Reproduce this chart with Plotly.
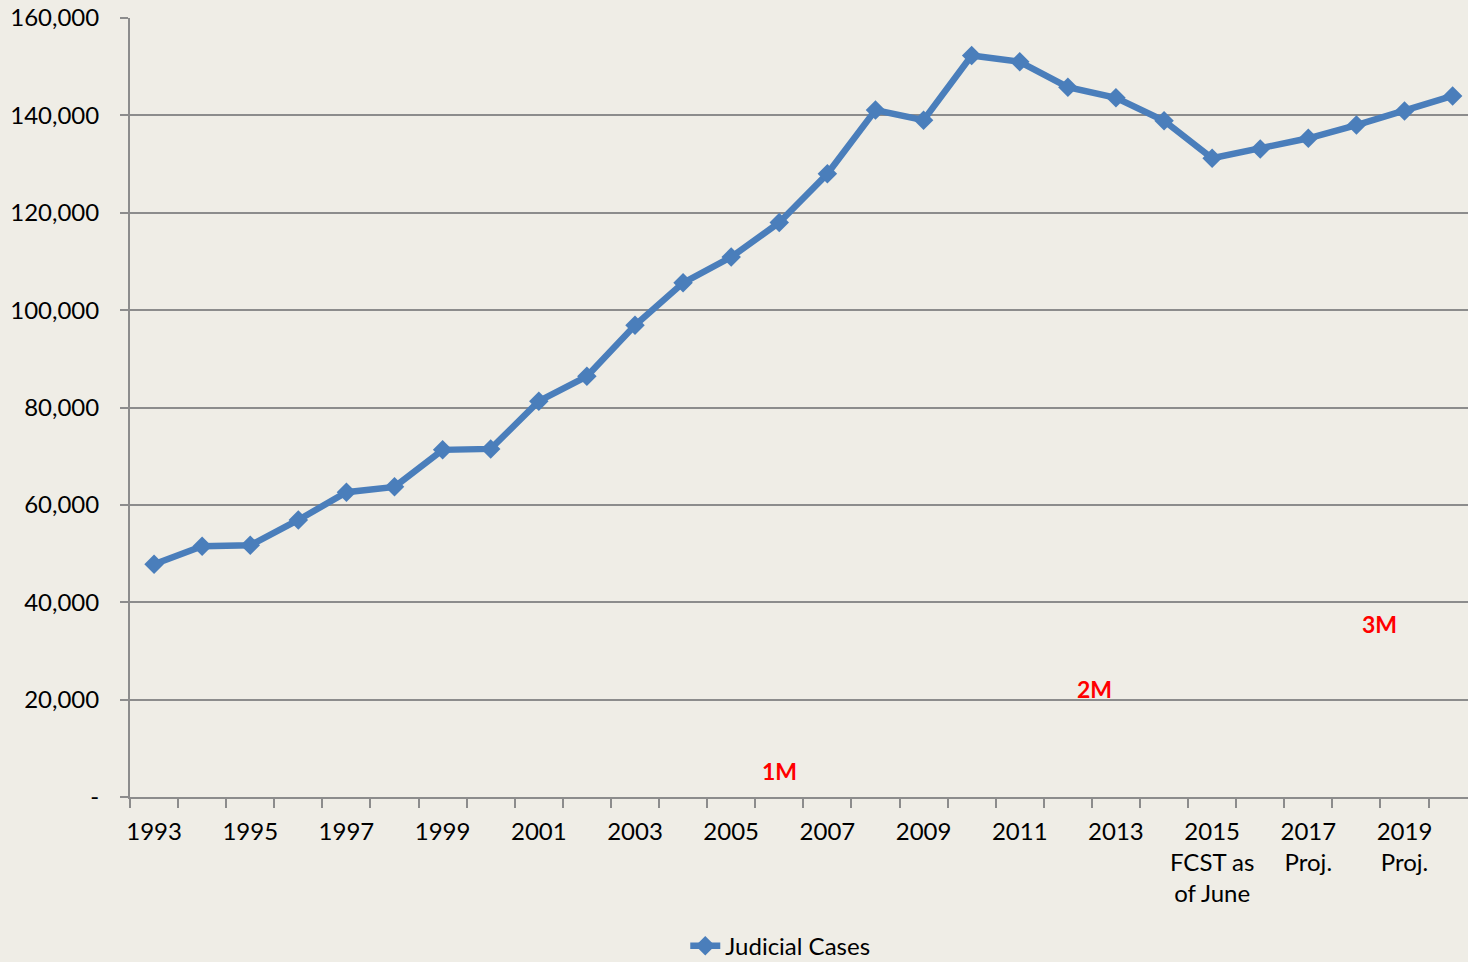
import plotly.graph_objects as go

years = list(range(1993, 2021))
cases = [47800, 51500, 51700, 56900, 62600, 63700, 71300, 71500, 81300, 86400,
         96900, 105600, 110900, 118000, 128000, 141100, 139000, 152300, 151000, 145800,
         143600, 138900, 131200, 133100, 135300, 138000, 140900, 144000]
tick_labels = ["1993", "1995", "1997", "1999", "2001", "2003", "2005", "2007", "2009",
               "2011", "2013", "2015<br>FCST as<br>of June", "2017<br>Proj.", "2019<br>Proj."]
y_ticks = [0, 20000, 40000, 60000, 80000, 100000, 120000, 140000, 160000]
y_tick_labels = ["-", "20,000", "40,000", "60,000", "80,000", "100,000", "120,000", "140,000", "160,000"]
notes = ["1M", "2M", "3M"]
note_x = [13, 19.56, 25.49]
note_y = [5300, 22200, 35500]

BG = "#EFEDE6"
GRID = "#8C8C8C"
FONT = "Lato"

xs = list(range(len(years)))
fig = go.Figure()
fig.add_trace(go.Scatter(
    x=xs, y=cases, mode="lines+markers", name="Judicial Cases",
    line=dict(color="#4A7EBB", width=6.5),
    marker=dict(symbol="diamond", size=15, color="#4A7EBB"),
))

for t, nx, ny in zip(notes, note_x, note_y):
    fig.add_annotation(x=nx, y=ny, text=f"<b>{t}</b>", showarrow=False,
                       font=dict(color="#FF0000", size=23, family=FONT, weight=700))

fig.update_layout(
    width=1468, height=962,
    paper_bgcolor=BG, plot_bgcolor=BG,
    margin=dict(l=130, r=0, t=18, b=165, autoexpand=False),
    font=dict(family=FONT, size=24, color="#000000"),
    showlegend=True,
    legend=dict(orientation="h", x=0.486, y=-0.1915, xanchor="center", yanchor="middle",
                bgcolor="rgba(0,0,0,0)", font=dict(size=24, family=FONT)),
    xaxis=dict(
        range=[-0.5, 27.32], tickmode="array",
        tickvals=xs[::2], ticktext=tick_labels,
        ticks="", showgrid=False, zeroline=False,
        showline=True, linecolor=GRID, linewidth=2,
        minor=dict(tickmode="array", tickvals=[i - 0.5 for i in range(29)],
                   ticks="outside", ticklen=9, tickcolor=GRID, tickwidth=2, showgrid=False),
        tickfont=dict(size=24, family=FONT),
        ticklabelstandoff=12,
        automargin=False,
        fixedrange=True,
    ),
    yaxis=dict(
        range=[0, 160000], tickmode="array", tickvals=y_ticks, ticktext=y_tick_labels,
        ticks="outside", ticklen=8, tickcolor=GRID, tickwidth=2,
        showgrid=True, gridcolor=GRID, gridwidth=2, zeroline=False,
        showline=True, linecolor=GRID, linewidth=2,
        tickfont=dict(size=24, family=FONT),
        ticklabelstandoff=16,
        automargin=False,
        fixedrange=True,
    ),
)

fig.write_html("out.html", config={"displayModeBar": False},
               post_script="document.body.style.margin='0';")
